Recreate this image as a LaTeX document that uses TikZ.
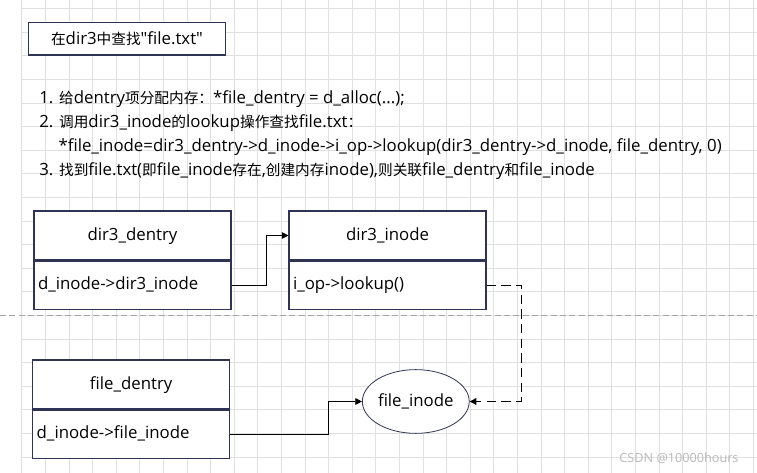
\documentclass[tikz,border=0pt]{standalone}
\usepackage{fontspec}
\setmainfont{Open Sans}
\newfontfamily\cjk{Noto Sans CJK SC}
\newcommand{\zh}[1]{{\cjk\fontsize{11}{13}\selectfont #1}}
\usepackage{tikz}
\usetikzlibrary{positioning,arrows.meta,shapes.geometric}

\definecolor{edgeblue}{RGB}{48,52,84}
\definecolor{gridgray}{RGB}{224,224,224}

\begin{document}
\begin{tikzpicture}[
x=0.75pt, y=-0.75pt,
font=\fontsize{12.6}{15}\selectfont,
gridline/.style={gridgray, line width=0.6pt},
headbox/.style={rectangle, draw=edgeblue, line width=0.8pt, fill=white, minimum width=147.75pt, minimum height=36.75pt, align=center, inner sep=0pt, text height=8.8pt, text depth=2pt},
fieldbox/.style={rectangle, draw=edgeblue, line width=0.8pt, fill=white, text width=141.75pt, inner xsep=3pt, inner ysep=0pt, minimum height=36.5pt, align=left, text height=8.8pt, text depth=2pt},
objnode/.style={ellipse, draw=edgeblue, line width=0.6pt, fill=white, minimum width=77.25pt, minimum height=47.8pt, inner sep=0pt, text height=8.8pt, text depth=2pt},
stepline/.style={anchor=base west, inner sep=0pt},
arrow/.style={-{Triangle[length=5pt,width=5pt]}, line width=0.6pt},
ref_line/.style={arrow, dash pattern=on 7pt off 4pt}
]

\useasboundingbox[fill=white] (0,0) rectangle (757,473);

% --- BACKGROUND GRID ---
\foreach \i in {0,...,31}
  \draw[gridline] (21.7+23.6*\i,0) -- (21.7+23.6*\i,473);
\foreach \j in {0,...,19}
  \draw[gridline] (21.7,8.7+23.6*\j) -- (757,8.7+23.6*\j);

% --- HEADING AND STEPS ---
\node[rectangle, draw=edgeblue, line width=0.8pt, fill=white, minimum width=148pt, minimum height=24.5pt] (task) at (127,38.7) {\zh{在}dir3\zh{中查找}\textquotedbl file.txt\textquotedbl};

\node[stepline] (step1) at (39,104) {1. \zh{给}dentry\zh{项分配内存：}*file\_dentry = d\_alloc(...);};
\node[stepline] (step2) at (39,128) {2. \zh{调用}dir3\_inode\zh{的}lookup\zh{操作查找}file.txt\zh{：}};
\node[stepline] (step2b) at (58.3,151.7) {*file\_inode=dir3\_dentry->d\_inode->i\_op->lookup(dir3\_dentry->d\_inode, file\_dentry, 0)};
\node[stepline] (step3) at (39,176) {3. \zh{找到}file.txt(\zh{即}file\_inode\zh{存在},\zh{创建内存}inode),\zh{则关联}file\_dentry\zh{和}file\_inode};

% --- SEPARATOR ---
\draw[gray!70, line width=0.6pt, dash pattern=on 4.5pt off 2.5pt] (0,315.5) -- (757,315.5);

% --- OBJECTS ---
\node[headbox] (dentryHead) at (132.5,235.5) {dir3\_dentry};
\node[fieldbox, below=0pt of dentryHead] (dentryField) {d\_inode->dir3\_inode};

\node[headbox] (inodeHead) at (387.5,235.5) {dir3\_inode};
\node[fieldbox, below=0pt of inodeHead] (inodeField) {i\_op->lookup()};

\node[headbox] (fileHead) at (131.2,384.5) {file\_dentry};
\node[fieldbox, below=0pt of fileHead] (fileField) {d\_inode->file\_inode};

\node[objnode] (fileInode) at (415.8,401.5) {file\_inode};

% --- LINKS ---
\draw[arrow] (dentryField.east) -- ++(34.7,0) |- (inodeHead.west);
\draw[ref_line] (inodeField.east) -- ++(34.7,0) |- (fileInode.east);
\draw[arrow] (fileField.east) -- ++(98.6,0) |- (fileInode.west);

\node[gray!55, font=\fontsize{9.5}{11}\selectfont] (mark) at (679,458.3) {CSDN @10000hours};

\end{tikzpicture}
\end{document}
